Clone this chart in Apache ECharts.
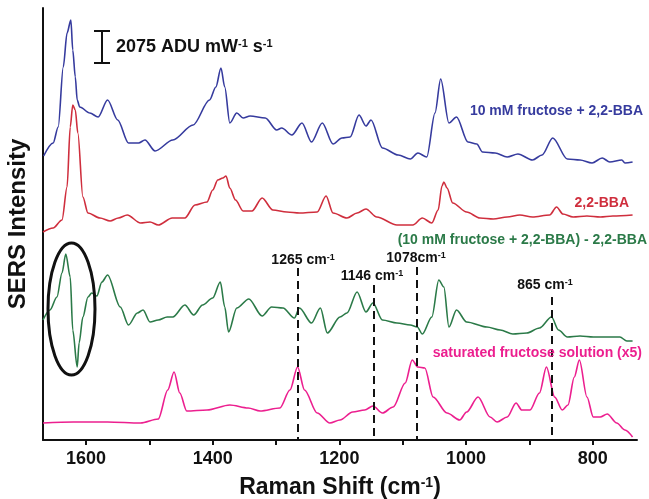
<!DOCTYPE html>
<html>
<head>
<meta charset="utf-8">
<script src="https://cdn.jsdelivr.net/npm/echarts@6/dist/echarts.min.js"></script>
<style>
  html, body { margin: 0; padding: 0; background: #fff; }
  #chart { width: 649px; height: 499px; }
</style>
</head>
<body>
<div id="chart"></div>
<script>
// Raman shift (cm-1) and offset SERS intensity
const fructoseBba = [
  [1667, 284], [1652, 297], [1644, 313], [1636, 373], [1630, 407], [1624, 420], [1621, 390],
  [1617, 363], [1614, 340], [1610, 333], [1594, 327], [1581, 323], [1566, 340], [1550, 320],
  [1533, 297], [1517, 297], [1507, 300], [1491, 289], [1463, 300], [1431, 315], [1405, 340],
  [1395, 353], [1387, 372], [1381, 353], [1373, 317], [1362, 327], [1352, 322], [1341, 324],
  [1317, 322], [1299, 310], [1291, 312], [1275, 305], [1259, 317], [1244, 298], [1227, 317],
  [1210, 296], [1196, 302], [1183, 303], [1169, 325], [1158, 314], [1150, 320], [1132, 292],
  [1107, 285], [1088, 281], [1076, 287], [1062, 283], [1049, 327], [1040, 361], [1027, 317],
  [1015, 323], [997, 298], [983, 296], [974, 288], [954, 287], [935, 283], [918, 286],
  [895, 280], [880, 285], [863, 302], [840, 281], [820, 280], [801, 277], [785, 282],
  [773, 278], [754, 280], [749, 277], [737, 278]
];

const bba = [
  [1668, 208], [1652, 212], [1638, 220], [1630, 253], [1625, 313], [1621, 335], [1617, 330],
  [1613, 307], [1605, 243], [1597, 227], [1578, 222], [1562, 219], [1549, 222], [1535, 225],
  [1514, 217], [1499, 218], [1486, 215], [1464, 222], [1444, 222], [1428, 235], [1409, 238],
  [1400, 250], [1392, 260], [1384, 262], [1379, 264], [1373, 252], [1364, 240], [1352, 229],
  [1338, 229], [1322, 242], [1305, 230], [1283, 228], [1263, 227], [1235, 228], [1221, 244],
  [1210, 227], [1188, 222], [1172, 227], [1158, 231], [1141, 223], [1109, 215], [1084, 215],
  [1069, 222], [1054, 217], [1044, 230], [1038, 254], [1035, 258], [1030, 252], [1021, 237],
  [999, 228], [978, 222], [957, 221], [935, 223], [915, 225], [895, 223], [868, 225],
  [857, 233], [847, 226], [831, 223], [809, 224], [788, 223], [768, 224], [737, 225]
];

const difference = [
  [1668, 120], [1657, 130], [1646, 143], [1638, 167], [1632, 186], [1625, 163], [1621, 110],
  [1614, 73], [1611, 97], [1605, 123], [1597, 143], [1591, 147], [1583, 144], [1575, 158],
  [1566, 165], [1546, 133], [1533, 115], [1519, 127], [1510, 130], [1499, 118], [1486, 120],
  [1472, 123], [1463, 123], [1444, 135], [1430, 125], [1416, 135], [1400, 142], [1388, 158],
  [1381, 133], [1375, 108], [1362, 132], [1343, 141], [1322, 124], [1307, 133], [1289, 132],
  [1271, 122], [1263, 132], [1244, 117], [1230, 132], [1219, 107], [1199, 123], [1188, 127],
  [1172, 148], [1158, 128], [1147, 137], [1132, 120], [1109, 117], [1088, 115], [1077, 113],
  [1069, 106], [1054, 123], [1043, 160], [1035, 153], [1027, 113], [1015, 130], [999, 118],
  [967, 113], [946, 110], [926, 106], [904, 107], [884, 112], [865, 123], [854, 110],
  [840, 103], [820, 104], [799, 103], [784, 103], [757, 103], [746, 99], [737, 99]
];

const fructoseSolution = [
  [1668, 17], [1620, 18], [1566, 18], [1514, 17], [1486, 21], [1471, 50], [1461, 68],
  [1452, 47], [1441, 29], [1409, 30], [1373, 35], [1344, 32], [1325, 29], [1294, 32],
  [1278, 50], [1266, 73], [1255, 50], [1235, 27], [1215, 17], [1199, 20], [1179, 28],
  [1160, 30], [1147, 34], [1132, 27], [1115, 33], [1096, 57], [1085, 80], [1076, 73],
  [1065, 72], [1052, 43], [1030, 27], [1010, 20], [999, 28], [981, 43], [962, 23],
  [951, 18], [935, 23], [921, 37], [912, 30], [899, 30], [884, 47], [873, 73],
  [860, 43], [848, 30], [839, 35], [829, 63], [821, 80], [809, 43], [799, 23],
  [788, 23], [777, 26], [762, 17], [749, 10], [737, 3]
];

// marked bands: [wavenumber, top of dashed line]
const markedBands = [[1265, 172], [1146, 155], [1078, 173], [865, 143]];

const xTicks = [1600, 1500, 1400, 1300, 1200, 1100, 1000, 900, 800];
const xLabels = [1600, 1400, 1200, 1000, 800];

const font = "'Liberation Sans', Arial, sans-serif";
const colors = {
  blue: '#363b9e',
  red: '#cf2e3d',
  green: '#2b7a48',
  pink: '#ec1f8f'
};

const chart = echarts.init(document.getElementById('chart'));

const line = (name, data, color) => ({
  name,
  type: 'line',
  data,
  showSymbol: false,
  smooth: 0.3,
  smoothMonotone: 'x',
  silent: true,
  lineStyle: { color, width: 1.6 },
  z: 3
});

const supRich = size => ({
  n: { fontFamily: font, fontWeight: 'bold', fontSize: size, color: '#111', verticalAlign: 'bottom' },
  s: { fontFamily: font, fontWeight: 'bold', fontSize: Math.round(size * 0.6), color: '#111', verticalAlign: 'top' }
});

const label = (x, y, text, color, align, size) => ({
  type: 'text',
  x, y,
  z: 10,
  style: {
    text,
    fill: color,
    align,
    verticalAlign: 'middle',
    font: `bold ${size}px ${font}`,
    rich: {
      n: { fill: color, font: `bold ${size}px ${font}`, verticalAlign: 'bottom' },
      s: { fill: color, font: `bold ${Math.round(size * 0.62)}px ${font}`, verticalAlign: 'top' }
    }
  }
});

const pinkSeries = line('saturated fructose solution (x5)', fructoseSolution, colors.pink);
pinkSeries.markLine = {
  silent: true,
  symbol: 'none',
  animation: false,
  label: { show: false },
  lineStyle: { color: '#111', width: 2, type: [8, 5] },
  data: markedBands.map(b => [{ coord: [b[0], b[1]] }, { coord: [b[0], 0] }])
};

chart.setOption({
  animation: false,
  grid: { left: 43, right: 12, top: 8, bottom: 59, outerBoundsMode: 'none' },
  xAxis: {
    type: 'value',
    inverse: true,
    min: 730,
    max: 1668,
    name: '{n|Raman Shift (cm}{s|-1}{n|)}',
    nameLocation: 'middle',
    nameGap: 36,
    nameTextStyle: { rich: supRich(23), color: '#111' },
    axisLine: { show: true, onZero: false, lineStyle: { color: '#111', width: 2 } },
    axisTick: { show: true, customValues: xTicks, length: 5, lineStyle: { color: '#111', width: 2 } },
    axisLabel: {
      customValues: xLabels,
      formatter: v => String(v),
      color: '#111',
      fontFamily: font,
      fontWeight: 'bold',
      fontSize: 18,
      margin: 10
    },
    splitLine: { show: false }
  },
  yAxis: {
    type: 'value',
    min: 0,
    max: 432,
    name: 'SERS Intensity',
    nameLocation: 'middle',
    nameGap: 13,
    nameTextStyle: { color: '#111', fontFamily: font, fontWeight: 'bold', fontSize: 24 },
    axisLine: { show: true, lineStyle: { color: '#111', width: 2 } },
    axisTick: { show: false },
    axisLabel: { show: false },
    splitLine: { show: false }
  },
  series: [
    line('10 mM fructose + 2,2-BBA', fructoseBba, colors.blue),
    line('2,2-BBA', bba, colors.red),
    line('(10 mM fructose + 2,2-BBA) - 2,2-BBA', difference, colors.green),
    pinkSeries
  ],
  graphic: [
    // scale bar
    { type: 'line', shape: { x1: 102, y1: 31, x2: 102, y2: 63 }, style: { stroke: '#111', lineWidth: 2 } },
    { type: 'line', shape: { x1: 94, y1: 31, x2: 110, y2: 31 }, style: { stroke: '#111', lineWidth: 2 } },
    { type: 'line', shape: { x1: 94, y1: 63, x2: 110, y2: 63 }, style: { stroke: '#111', lineWidth: 2 } },
    label(116, 47, '{n|2075 ADU mW}{s|-1}{n| s}{s|-1}', '#111', 'left', 18),
    // series labels
    label(643, 111, '10 mM fructose + 2,2-BBA', colors.blue, 'right', 14),
    label(629, 203, '2,2-BBA', colors.red, 'right', 14),
    label(647, 240, '(10 mM fructose + 2,2-BBA) - 2,2-BBA', colors.green, 'right', 14),
    label(642, 353, 'saturated fructose solution (x5)', colors.pink, 'right', 14),
    // band labels
    label(303, 260, '{n|1265 cm}{s|-1}', '#111', 'center', 14),
    label(372, 276, '{n|1146 cm}{s|-1}', '#111', 'center', 14),
    label(416, 258, '{n|1078cm}{s|-1}', '#111', 'center', 14),
    label(545, 285, '{n|865 cm}{s|-1}', '#111', 'center', 14),
    // ellipse around the 1620 band of the difference spectrum
    {
      type: 'ellipse',
      shape: { cx: 71.5, cy: 309, rx: 23.5, ry: 66 },
      style: { fill: 'none', stroke: '#111', lineWidth: 3 },
      z: 10
    }
  ]
});
</script>
</body>
</html>
